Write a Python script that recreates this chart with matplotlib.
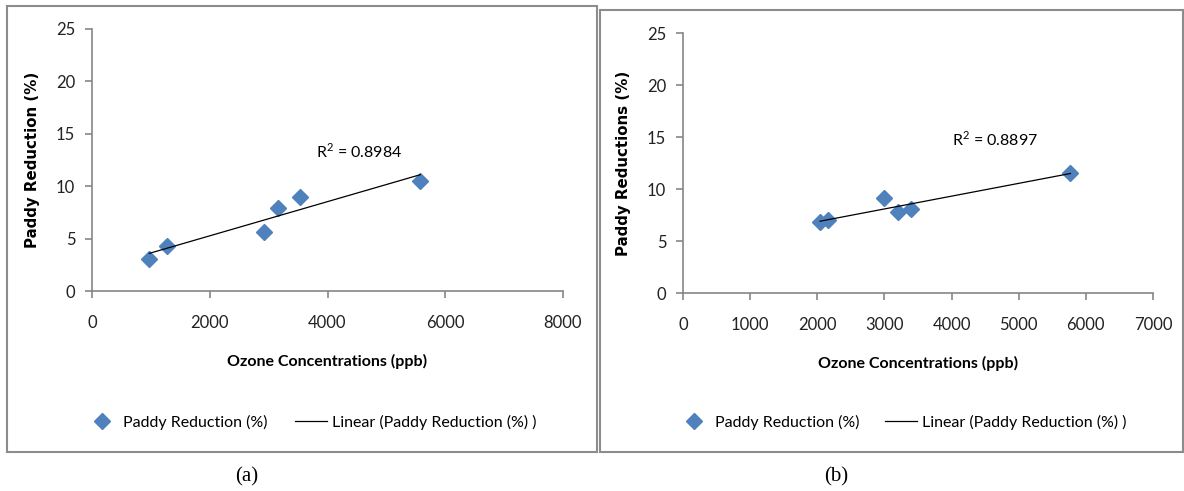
import matplotlib
matplotlib.use('Agg')
import matplotlib.pyplot as plt
from matplotlib.patches import Rectangle
import numpy as np

plt.rcParams['font.family'] = ['Lato', 'DejaVu Sans']
plt.rcParams['mathtext.fontset'] = 'custom'
plt.rcParams['mathtext.rm'] = 'Lato'

# panel (a)
ozone_a = [974, 1279, 2921, 3155, 3532, 5576]
paddy_a = [3.06, 4.33, 5.6, 7.96, 9.01, 10.5]
r2_a = 'R$^2$ = 0.8984'

# panel (b)
ozone_b = [2042, 2166, 2990, 3198, 3401, 5770]
paddy_b = [6.8, 7.0, 9.18, 7.8, 8.09, 11.55]
r2_b = 'R$^2$ = 0.8897'

W, H = 1184, 491
fig = plt.figure(figsize=(W / 100, H / 100), dpi=100)

blue = '#4F81BD'
grey = '#868686'
fs = 11.5


def px(x0, y0, x1, y1):
    # pixel box (top-left origin) -> figure fraction [l, b, w, h]
    return [x0 / W, 1 - y1 / H, (x1 - x0) / W, (y1 - y0) / H]


def panel(rect, xs, ys, xmax, xstep, ylabel, r2, r2_xy, leg_x, caption, cap_x):
    ax = fig.add_axes(rect)
    pts, = ax.plot(xs, ys, 'D', color=blue, markersize=8.5)
    k, b = np.polyfit(xs, ys, 1)
    xl = np.array([min(xs), max(xs)])
    fit, = ax.plot(xl, k * xl + b, color='black', lw=0.9)
    ax.set_xlim(0, xmax)
    ax.set_ylim(0, 25)
    ax.set_xticks(np.arange(0, xmax + 1, xstep))
    ax.set_yticks(np.arange(0, 26, 5))
    for s in ['top', 'right']:
        ax.spines[s].set_visible(False)
    for s in ['left', 'bottom']:
        ax.spines[s].set_color(grey)
        ax.spines[s].set_linewidth(1.2)
    ax.tick_params(direction='out', length=5, width=1.2, color=grey,
                   labelsize=fs + 0.5, labelcolor='#222222', pad=7)
    ax.tick_params(axis='x', pad=12)
    ax.set_xlabel('Ozone Concentrations (ppb)', fontsize=fs, fontweight='bold', labelpad=17)
    ax.set_ylabel(ylabel, fontsize=10.8, fontweight='bold', family='DejaVu Sans')
    ax.yaxis.set_label_coords(-0.111, 0.5)
    ax.text(r2_xy[0], r2_xy[1], r2, fontsize=fs, va='center')
    # two legend entries, placed side by side
    fig.legend([pts], ['Paddy Reduction (%)'], loc='center left',
               bbox_to_anchor=(leg_x[0] / W, 1 - 422 / H), frameon=False,
               fontsize=fs, numpoints=1, handlelength=1.0, handletextpad=0.8,
               borderpad=0, borderaxespad=0)
    fig.legend([fit], ['Linear (Paddy Reduction (%) )'], loc='center left',
               bbox_to_anchor=(leg_x[1] / W, 1 - 422 / H), frameon=False,
               fontsize=fs, handlelength=2.0, handletextpad=0.3,
               borderpad=0, borderaxespad=0)
    fig.text(cap_x / W, 1 - 477 / H, caption, family='Liberation Serif',
             fontsize=15, ha='center', va='center')
    return ax


panel(px(92, 29, 563, 291), ozone_a, paddy_a, 8000, 2000,
      'Paddy Reduction (%)', r2_a, (3800, 13.3), (94, 295), '(a)', 247)
panel(px(683, 33, 1153, 293), ozone_b, paddy_b, 7000, 1000,
      'Paddy Reductions (%)', r2_b, (4010, 14.8), (686, 885), '(b)', 836)

# panel frames
fig.patches.append(Rectangle((7 / W, 1 - 452 / H), 590 / W, 446 / H,
                             transform=fig.transFigure, fill=False,
                             edgecolor='#8c8c8c', lw=1.5))
fig.patches.append(Rectangle((600 / W, 1 - 452 / H), 583 / W, 442 / H,
                             transform=fig.transFigure, fill=False,
                             edgecolor='#8c8c8c', lw=1.5))

fig.savefig('out.png', dpi=100)
